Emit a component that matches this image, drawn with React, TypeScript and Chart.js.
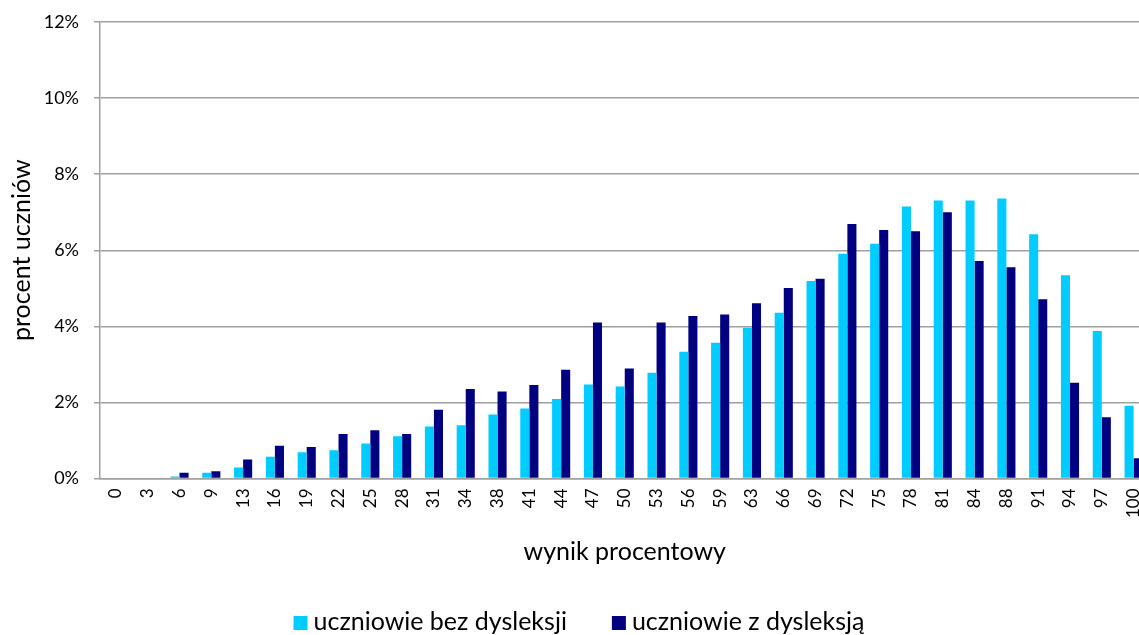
import React, { useEffect, useRef } from "react";
import { Chart, registerables } from "chart.js";

Chart.register(...registerables);

const categories = ["0","3","6","9","13","16","19","22","25","28","31","34","38","41","44","47","50","53","56","59","63","66","69","72","75","78","81","84","88","91","94","97","100"];

const bezDysleksji = [0,0.02,0.05,0.15,0.29,0.57,0.69,0.74,0.92,1.11,1.37,1.40,1.68,1.84,2.09,2.47,2.42,2.78,3.33,3.57,3.96,4.36,5.19,5.91,6.17,7.15,7.31,7.31,7.36,6.42,5.34,3.88,1.91];

const zDysleksja = [0,0,0.15,0.19,0.50,0.86,0.83,1.17,1.27,1.17,1.81,2.35,2.29,2.46,2.86,4.10,2.89,4.10,4.27,4.31,4.61,5.01,5.25,6.69,6.53,6.50,7.00,5.72,5.55,4.71,2.52,1.61,0.53];

const seriesLabels = ["uczniowie bez dysleksji", "uczniowie z dysleksją"];
const yTicks = [0, 2, 4, 6, 8, 10, 12];

const FONT = "Lato";
const GRID = "#A0A0A0";

const legendPlugin = {
  id: "customLegend",
  afterDraw(chart: any) {
    const ctx = chart.ctx;
    ctx.save();
    ctx.font = `25px ${FONT}`;
    ctx.textBaseline = "alphabetic";
    ctx.textAlign = "left";
    const sq = 14, gap = 6, itemGap = 45;
    const items = chart.data.datasets.map((ds: any) => ({
      label: ds.label,
      color: ds.backgroundColor,
      w: ctx.measureText(ds.label).width,
    }));
    const total = items.reduce((s: number, it: any) => s + sq + gap + it.w, 0) + itemGap * (items.length - 1);
    let x = 579 - total / 2;
    const base = 630;
    for (const it of items) {
      ctx.fillStyle = it.color;
      ctx.fillRect(x, base - sq, sq, sq);
      x += sq + gap;
      ctx.fillStyle = "#000";
      ctx.fillText(it.label, x, base);
      x += it.w + itemGap;
    }
    ctx.restore();
  },
};

export default function App() {
  const ref = useRef<HTMLCanvasElement>(null);
  useEffect(() => {
    if (!ref.current) return;
    const chart = new Chart(ref.current, {
      type: "bar",
      data: {
        labels: categories,
        datasets: [
          { label: seriesLabels[0], data: bezDysleksji, backgroundColor: "#00CCFF", borderWidth: 0 },
          { label: seriesLabels[1], data: zDysleksja, backgroundColor: "#000080", borderWidth: 0 },
        ],
      },
      options: {
        responsive: false,
        animation: false,
        devicePixelRatio: 1,
        layout: { padding: { top: 22, right: 0, bottom: 45, left: 0 } },
        plugins: {
          legend: { display: false },
          tooltip: { enabled: false },
        },
        datasets: { bar: { categoryPercentage: 0.57, barPercentage: 1.0 } },
        scales: {
          x: {
            offset: true,
            grid: { display: false, drawTicks: false },
            border: { display: true, color: GRID, width: 1.5 },
            ticks: {
              autoSkip: false,
              maxRotation: 90,
              minRotation: 90,
              padding: 10,
              color: "#000",
              font: { family: FONT, size: 17 },
            },
            title: {
              display: true,
              text: "wynik procentowy",
              color: "#000",
              font: { family: FONT, size: 25 },
              padding: { top: 0, bottom: 23 },
            },
            afterFit: (s: any) => { s.height = 111.5; },
          },
          y: {
            min: 0,
            max: 12,
            afterBuildTicks: (s: any) => { s.ticks = yTicks.map((v) => ({ value: v })); },
            grid: { color: GRID, lineWidth: 1.5, tickLength: 6, drawTicks: true },
            border: { display: true, color: GRID, width: 1.5 },
            ticks: {
              padding: 15,
              color: "#000",
              font: { family: FONT, size: 18 },
              callback: (v: any) => `${v}%`,
            },
            title: {
              display: true,
              text: "procent uczniów",
              color: "#000",
              font: { family: FONT, size: 25 },
              padding: { top: 7, bottom: 0 },
            },
            afterFit: (s: any) => {
              s.width = 100;
              s.paddingTop = 0;
              s.paddingBottom = 0;
            },
          },
        },
      },
      plugins: [legendPlugin],
    });
    return () => chart.destroy();
  }, []);

  return (
    <div style={{ position: "fixed", left: 0, top: 0, width: 1139, height: 635, overflow: "hidden", background: "#fff" }}>
      <canvas ref={ref} width={1164} height={635} style={{ display: "block" }} />
    </div>
  );
}
